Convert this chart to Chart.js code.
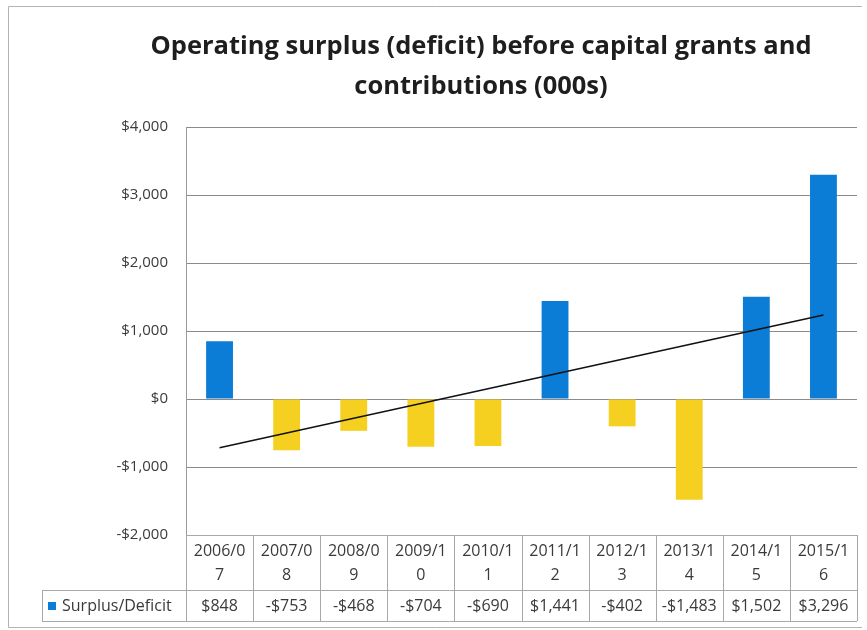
<!DOCTYPE html>
<html>
<head>
<meta charset="utf-8">
<script src="https://cdn.jsdelivr.net/npm/chart.js@4.4.1/dist/chart.umd.min.js"></script>
<style>
  html, body { margin: 0; padding: 0; background: #fff; }
  #wrap { width: 867px; height: 630px; position: relative; }
</style>
</head>
<body>
<div id="wrap"><canvas id="c"></canvas></div>
<script>
// ---- data ----
const seriesName = 'Surplus/Deficit';
const categories = ['2006/07', '2007/08', '2008/09', '2009/10', '2010/11',
                    '2011/12', '2012/13', '2013/14', '2014/15', '2015/16'];
const values = [848, -753, -468, -704, -690, 1441, -402, -1483, 1502, 3296];
const yMin = -2000;
const yMax = 4000;
const yStep = 1000;
const titleLines = ['Operating surplus (deficit) before capital grants and',
                    'contributions (000s)'];

// ---- styling ----
const FONT = "'Open Sans', sans-serif";
const BLUE = '#0b7dd6';
const YELLOW = '#f6d020';
const GRID = '#8a8a8a';
const TABLE_LINE = '#a8a8a8';
const TEXT = '#3a3a3a';

const money = v => (v < 0 ? '-$' : '$') + Math.abs(v).toLocaleString('en-US');

// linear (least-squares) trendline over the category index
function linearTrend(ys) {
  const n = ys.length;
  const mx = (n - 1) / 2;
  const my = ys.reduce((a, b) => a + b, 0) / n;
  let sxy = 0, sxx = 0;
  ys.forEach((y, i) => { sxy += (i - mx) * (y - my); sxx += (i - mx) * (i - mx); });
  const slope = sxy / sxx;
  return ys.map((_, i) => my + slope * (i - mx));
}
const trend = linearTrend(values);

// white page with the chart frame
const framePlugin = {
  id: 'frame',
  beforeDraw(chart) {
    const ctx = chart.ctx;
    ctx.save();
    ctx.fillStyle = '#fff';
    ctx.fillRect(0, 0, chart.width, chart.height);
    ctx.strokeStyle = '#b4b4b4';
    ctx.lineWidth = 1;
    ctx.beginPath();
    ctx.moveTo(862, 6.5); ctx.lineTo(8.5, 6.5); ctx.lineTo(8.5, 627.5); ctx.lineTo(862, 627.5);
    ctx.stroke();
    ctx.restore();
  }
};

// two-line chart title
const titlePlugin = {
  id: 'twoLineTitle',
  afterDraw(chart) {
    const ctx = chart.ctx;
    ctx.save();
    ctx.fillStyle = '#1e1e1e';
    ctx.font = 'bold 25.5px ' + FONT;
    ctx.textAlign = 'center';
    ctx.textBaseline = 'middle';
    ctx.fillText(titleLines[0], 481, 47);
    ctx.fillText(titleLines[1], 481, 87);
    ctx.restore();
  }
};

// data table under the plot
const tablePlugin = {
  id: 'dataTable',
  afterDraw(chart) {
    const ctx = chart.ctx;
    const x = chart.scales.x;
    const area = chart.chartArea;
    const colW = (area.right - area.left) / categories.length;
    const top = area.bottom;
    const mid = top + 55;
    const bottom = top + 86;
    const legendLeft = 42;

    ctx.save();
    ctx.strokeStyle = TABLE_LINE;
    ctx.lineWidth = 1;
    ctx.beginPath();
    // horizontal rules
    ctx.moveTo(area.left, top + 0.5); ctx.lineTo(area.right, top + 0.5);
    ctx.moveTo(legendLeft, mid + 0.5); ctx.lineTo(area.right, mid + 0.5);
    ctx.moveTo(legendLeft, bottom + 0.5); ctx.lineTo(area.right, bottom + 0.5);
    // legend cell left edge
    ctx.moveTo(legendLeft + 0.5, mid); ctx.lineTo(legendLeft + 0.5, bottom);
    // column separators
    for (let i = 0; i <= categories.length; i++) {
      const px = Math.round(area.left + i * colW) + 0.5;
      ctx.moveTo(px, top); ctx.lineTo(px, bottom);
    }
    ctx.stroke();

    ctx.fillStyle = TEXT;
    ctx.font = '16px ' + FONT;
    ctx.textAlign = 'center';
    ctx.textBaseline = 'middle';
    categories.forEach((c, i) => {
      const cx = x.getPixelForValue(i);
      ctx.fillText(c.slice(0, 6), cx, top + 16);
      ctx.fillText(c.slice(6), cx, top + 40);
      ctx.fillText(money(values[i]), cx, mid + 16);
    });

    // legend key + series name
    ctx.fillStyle = BLUE;
    ctx.fillRect(48, mid + 12, 8, 8);
    ctx.fillStyle = TEXT;
    ctx.textAlign = 'left';
    ctx.fillText(seriesName, 62, mid + 16);
    ctx.restore();
  }
};

new Chart(document.getElementById('c'), {
  data: {
    labels: categories,
    datasets: [
      {
        type: 'line',
        label: 'Linear (' + seriesName + ')',
        data: trend,
        borderColor: '#111',
        borderWidth: 1.5,
        pointRadius: 0,
        fill: false,
        order: 0
      },
      {
        type: 'bar',
        label: seriesName,
        data: values,
        backgroundColor: values.map(v => (v >= 0 ? BLUE : YELLOW)),
        barPercentage: 0.4,
        categoryPercentage: 1,
        order: 1
      }
    ]
  },
  options: {
    responsive: true,
    maintainAspectRatio: false,
    animation: false,
    events: [],
    layout: { padding: { top: 127, bottom: 95, left: 8, right: 10 } },
    plugins: {
      legend: { display: false },
      title: { display: false },
      tooltip: { enabled: false }
    },
    scales: {
      x: {
        display: false,
        offset: true
      },
      y: {
        min: yMin,
        max: yMax,
        ticks: {
          stepSize: yStep,
          padding: 18,
          color: TEXT,
          font: { family: FONT, size: 15 },
          callback: v => money(v)
        },
        grid: { color: GRID, lineWidth: 1, drawTicks: false },
        border: { display: true, color: '#9a9a9a' },
        afterFit(scale) { scale.width = 178; }
      }
    }
  },
  plugins: [framePlugin, titlePlugin, tablePlugin]
});
</script>
</body>
</html>
